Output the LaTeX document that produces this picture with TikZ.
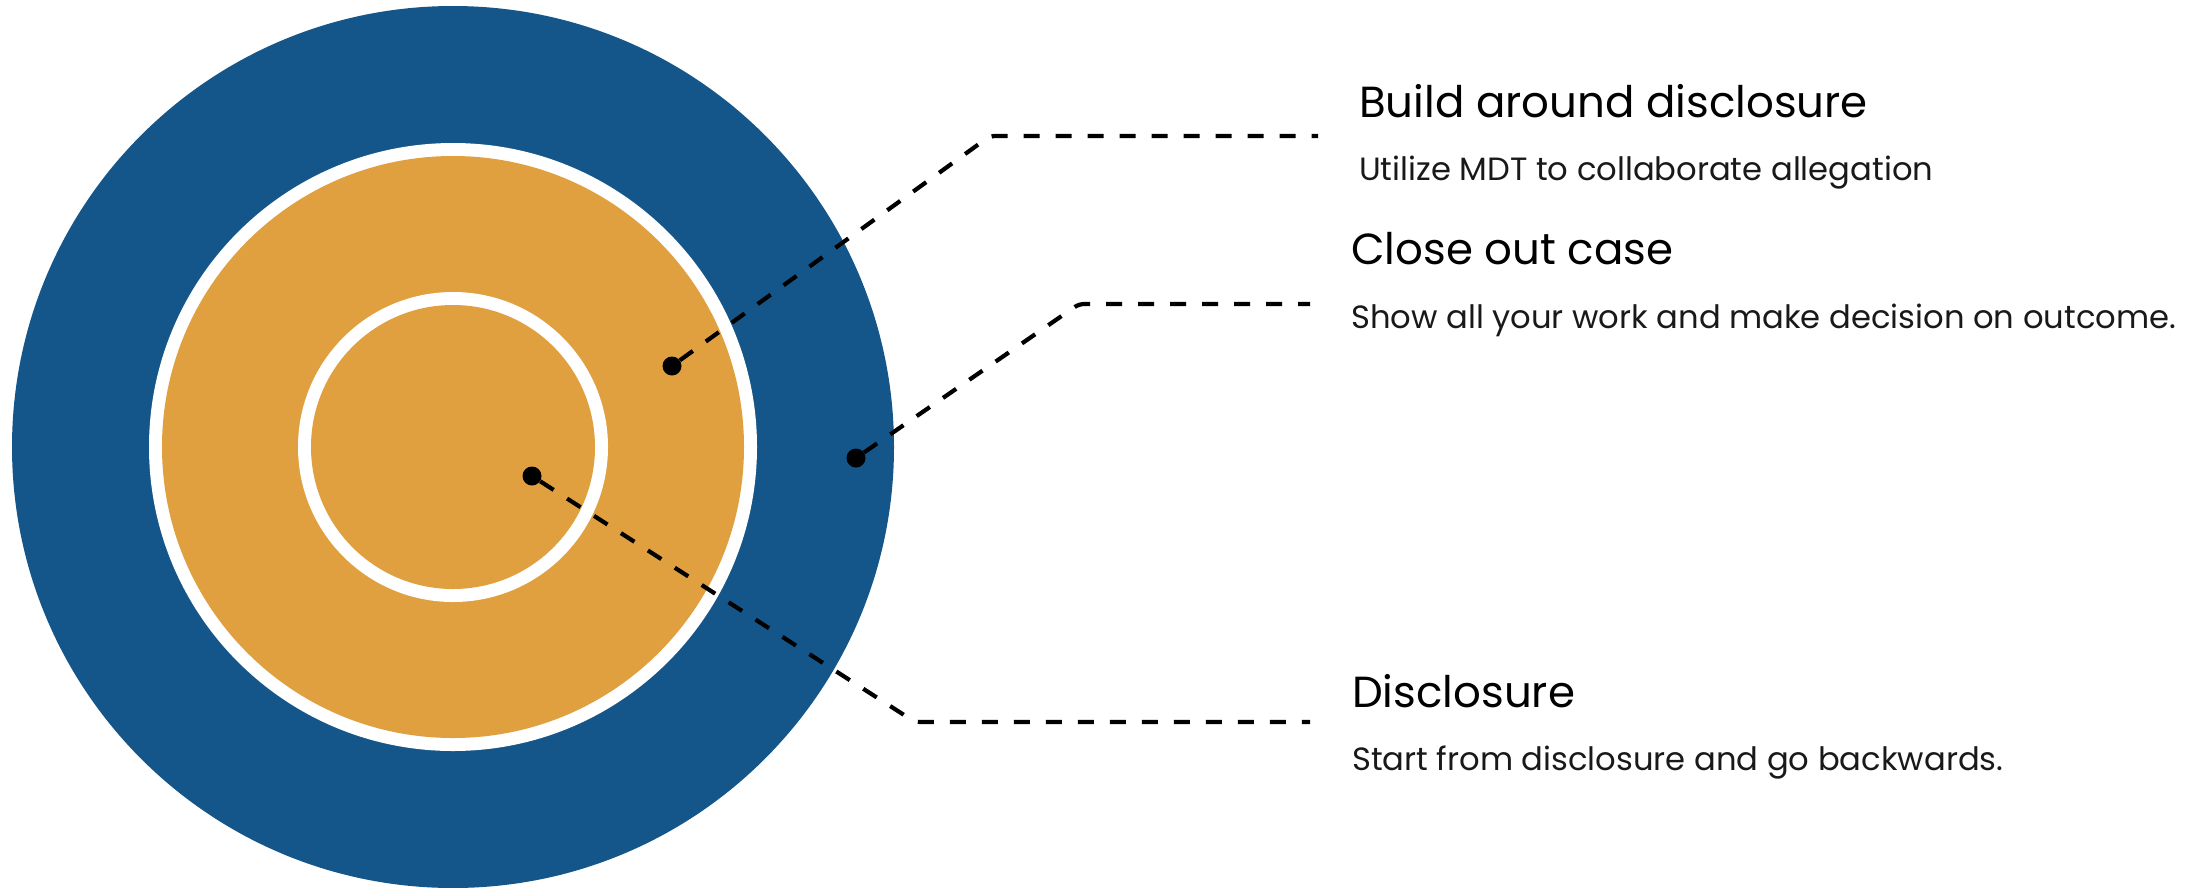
\documentclass[tikz,border=0pt]{standalone}
\usepackage{fontspec}
\setmainfont{Poppins}
\usetikzlibrary{positioning}
\definecolor{ringblue}{RGB}{21,86,138}
\definecolor{ringgold}{RGB}{224,160,64}

\begin{document}
\begin{tikzpicture}[x=1pt, y=-1pt,
	dot/.style={circle, fill=black, inner sep=0pt, minimum size=19pt},
	leader/.style={dash pattern=on 16pt off 16pt, line width=4.2pt, rounded corners=5pt},
	title/.style={anchor=base west, inner sep=0pt, font=\fontsize{43.5}{52}\selectfont},
	subtitle/.style={anchor=base west, inner sep=0pt, text=black!90, font=\fontsize{32.2}{38}\selectfont}]
	\useasboundingbox (0,0) rectangle (2192,887);
	% target rings
	\coordinate (c) at (453,447);
	\fill [ringblue] (c) circle (441);
	\fill [white] (c) circle (304);
	\fill [ringgold] (c) circle (291);
	\fill [white] (c) circle (155);
	\fill [ringgold] (c) circle (142);
	% markers
	\node [dot] (dotBuild) at (672,366) {};
	\node [dot] (dotClose) at (856,458) {};
	\node [dot] (dotDisc) at (532,476) {};
	% knees and ends of the leaders
	\coordinate (kneeBuild) at (990,136);
	\coordinate (endBuild) at (1318,136);
	\coordinate (kneeClose) at (1079,304);
	\coordinate (endClose) at (1310,304);
	\coordinate (kneeDisc) at (915,722);
	\coordinate (endDisc) at (1310,722);
	\draw [leader] (dotBuild) -- (kneeBuild) -- (endBuild);
	\draw [leader] (dotClose) -- (kneeClose) -- (endClose);
	\draw [leader] (dotDisc) -- (kneeDisc) -- (endDisc);
	% labels
	\node [title] (titleBuild) at (1359,117) {Build around disclosure};
	\node [subtitle] (subBuild) at ([yshift=-63pt]titleBuild.base west) {Utilize MDT to collaborate allegation};
	\node [title] (titleClose) at (1351,264) {Close out case};
	\node [subtitle] (subClose) at ([yshift=-64pt]titleClose.base west) {Show all your work and make decision on outcome.};
	\node [title] (titleDisc) at (1352,707) {Disclosure};
	\node [subtitle] (subDisc) at ([yshift=-63pt]titleDisc.base west) {Start from disclosure and go backwards.};
\end{tikzpicture}
\end{document}
